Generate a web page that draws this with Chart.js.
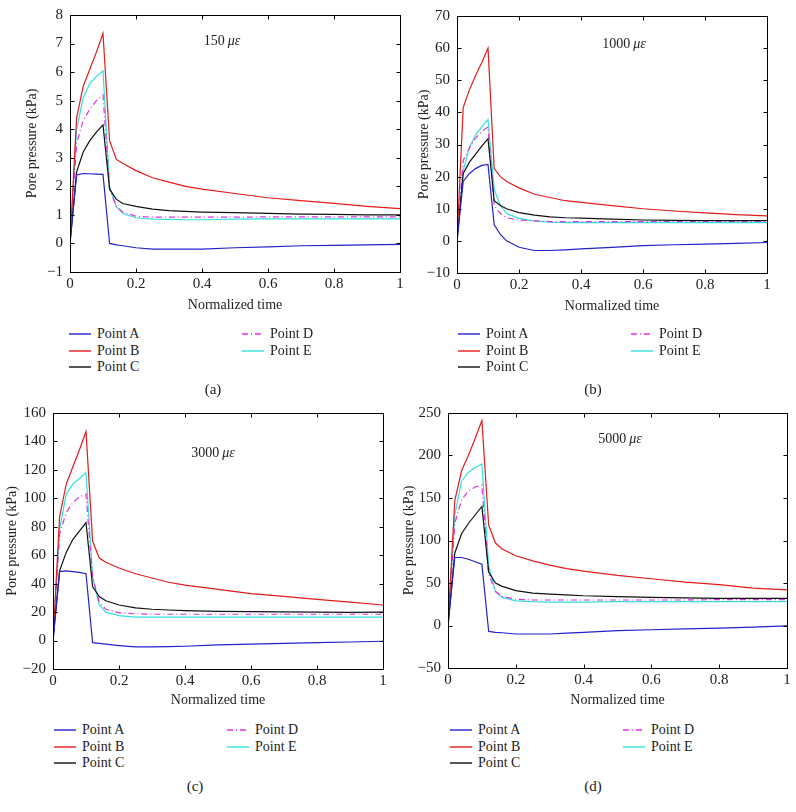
<!DOCTYPE html>
<html>
<head>
<meta charset="utf-8">
<script src="https://cdn.jsdelivr.net/npm/chart.js@4/dist/chart.umd.min.js"></script>
<style>
  body { margin: 0; background: #fff; }
  #page { position: relative; width: 796px; height: 812px; font-family: "Liberation Serif", serif; color: #222; }
  canvas { position: absolute; }
  .txt { position: absolute; font-size: 14px; white-space: nowrap; line-height: 1; }
  .note { position: absolute; font-size: 14px; white-space: nowrap; transform: translate(-50%, -50%); }
  .note i { font-style: italic; }
  .cap { position: absolute; font-size: 15px; transform: translate(-50%, -50%); }
  .sw { position: absolute; width: 22px; height: 4px; line-height: 0; }
  .sw svg { display: block; }
</style>
</head>
<body>
<div id="page">
  <canvas id="chartA" width="405" height="306" style="left:0;top:9px"></canvas>
  <canvas id="chartB" width="372" height="306" style="left:400px;top:10px"></canvas>
  <canvas id="chartC" width="388" height="303" style="left:0;top:407px"></canvas>
  <canvas id="chartD" width="392" height="303" style="left:400px;top:407px"></canvas>
</div>
<script>
// normalized time samples shared by all curves
const times = [0, 0.02, 0.04, 0.06, 0.08, 0.1, 0.12, 0.14, 0.16, 0.2, 0.25, 0.3, 0.35, 0.4, 0.5, 0.6, 0.7, 0.8, 0.9, 1.0];
const seriesNames = ['Point A', 'Point B', 'Point C', 'Point D', 'Point E'];

// (a) 150 microstrain
const a_A = [0, 2.4, 2.45, 2.44, 2.43, 2.42, 0.0, -0.05, -0.08, -0.15, -0.2, -0.2, -0.2, -0.2, -0.15, -0.12, -0.08, -0.07, -0.05, -0.03];
const a_B = [0, 4.4, 5.5, 6.1, 6.7, 7.35, 3.6, 2.95, 2.8, 2.55, 2.3, 2.15, 2.0, 1.9, 1.75, 1.6, 1.5, 1.4, 1.3, 1.22];
const a_C = [0, 2.5, 3.2, 3.6, 3.9, 4.15, 1.9, 1.55, 1.4, 1.3, 1.2, 1.15, 1.12, 1.1, 1.08, 1.05, 1.03, 1.02, 1.0, 1.0];
const a_D = [0, 3.5, 4.3, 4.7, 5.0, 5.2, 1.9, 1.3, 1.1, 0.95, 0.92, 0.92, 0.92, 0.92, 0.92, 0.93, 0.93, 0.93, 0.93, 0.93];
const a_E = [0, 4.0, 5.1, 5.6, 5.85, 6.05, 2.0, 1.3, 1.05, 0.9, 0.85, 0.84, 0.83, 0.83, 0.85, 0.86, 0.86, 0.86, 0.86, 0.86];

// (b) 1000 microstrain
const b_A = [0, 18.5, 21, 22.5, 23.5, 23.8, 5, 2, 0, -2, -3, -3, -2.8, -2.5, -2, -1.5, -1.2, -1, -0.8, -0.5];
const b_B = [0, 41.5, 47, 51.5, 55.5, 60, 22.5, 20, 18.5, 16.5, 14.5, 13.5, 12.5, 12, 11, 10, 9.3, 8.7, 8.2, 7.8];
const b_C = [0, 21, 24.5, 27, 29.5, 31.8, 12.5, 11, 10, 8.8, 8, 7.5, 7.2, 7.1, 6.8, 6.5, 6.4, 6.3, 6.3, 6.3];
const b_D = [0, 25, 29, 32, 34, 35.5, 11, 8.5, 7.2, 6.5, 6.2, 6.0, 6.0, 6.0, 6.0, 6.0, 6.1, 6.1, 6.1, 6.1];
const b_E = [0, 22, 29, 33, 35.5, 37.8, 16, 11, 8.5, 7, 6.2, 5.8, 5.7, 5.7, 5.7, 5.7, 5.7, 5.7, 5.7, 5.7];

// (c) 3000 microstrain
const c_A = [0, 48.5, 49, 48.5, 48, 47, -1.5, -2, -2.5, -3.5, -4.5, -4.5, -4.3, -4, -3, -2.5, -2, -1.5, -1, -0.5];
const c_B = [0, 87, 110, 122, 134, 147, 70, 58, 55, 51, 47, 44, 41, 39, 36, 33, 31, 29, 27, 25];
const c_C = [0, 49, 62, 71, 77, 83, 38, 31, 28, 25, 23, 22, 21.5, 21, 20.5, 20.3, 20.2, 20, 19.8, 20];
const c_D = [0, 75, 90, 97, 101, 103, 45, 27, 22, 19.5, 18.8, 18.5, 18.5, 18.5, 18.5, 18.5, 18.5, 18.5, 18.5, 18.5];
const c_E = [0, 78, 103, 110, 114, 118, 45, 25, 20, 17.5, 16.5, 16.5, 16.5, 16.5, 16.5, 16.5, 16.5, 16.5, 16.5, 16.5];

// (d) 5000 microstrain
const d_A = [0, 80, 80, 78, 75, 72, -7, -8, -8.5, -10, -10, -10, -9, -8, -6, -5, -4, -3, -2, -0.5];
const d_B = [0, 147, 182, 200, 220, 241, 118, 97, 90, 82, 76, 71, 67, 64, 59, 55, 51, 48, 44, 42];
const d_C = [0, 85, 108, 120, 130, 140, 63, 50, 46, 41, 38, 37, 36, 35, 34, 33, 32.5, 32, 32, 32];
const d_D = [0, 120, 148, 158, 163, 165, 60, 40, 34, 31, 30, 30, 30, 30, 30, 30, 30, 30.5, 30.5, 30.5];
const d_E = [0, 130, 170, 180, 186, 190, 70, 40, 33, 29, 28, 27.5, 27.5, 27.5, 28, 28, 28, 28, 28, 28];

const colors = ['#2222cc', '#e21b1b', '#111111', '#e030e0', '#30e0e0'];
const dashes = [[], [], [], [6, 3, 1, 3], []];

const FONT = { family: '"Liberation Serif", serif', size: 15 };
const TITLE_FONT = { family: '"Liberation Serif", serif', size: 14 };

// box round the plot and inward ticks on all four sides
const boxTicks = {
  id: 'boxTicks',
  afterDraw(chart) {
    const { ctx, chartArea: a, scales } = chart;
    ctx.save();
    ctx.strokeStyle = '#000';
    ctx.lineWidth = 1;
    const l = Math.round(a.left) + 0.5, r = Math.round(a.right) + 0.5;
    const t = Math.round(a.top) + 0.5, b = Math.round(a.bottom) + 0.5;
    ctx.strokeRect(l, t, r - l, b - t);
    ctx.beginPath();
    scales.x.ticks.forEach(tk => {
      const px = Math.round(scales.x.getPixelForValue(tk.value)) + 0.5;
      ctx.moveTo(px, b); ctx.lineTo(px, b - 4);
      ctx.moveTo(px, t); ctx.lineTo(px, t + 4);
    });
    scales.y.ticks.forEach(tk => {
      const py = Math.round(scales.y.getPixelForValue(tk.value)) + 0.5;
      ctx.moveTo(l, py); ctx.lineTo(l + 4, py);
      ctx.moveTo(r, py); ctx.lineTo(r - 4, py);
    });
    ctx.stroke();
    ctx.restore();
  }
};

function makePanel(id, series, yMin, yMax, yStep, yWidth, xHeight, yTitlePad) {
  new Chart(document.getElementById(id), {
    type: 'line',
    data: {
      datasets: series.map((vals, i) => ({
        label: seriesNames[i],
        data: vals.map((v, k) => ({ x: times[k], y: v })),
        borderColor: colors[i],
        borderWidth: 1.2,
        borderDash: dashes[i],
        pointRadius: 0,
        tension: 0,
        fill: false
      }))
    },
    options: {
      responsive: false,
      animation: false,
      layout: { padding: { top: 6, right: 5, left: 0, bottom: 0 } },
      plugins: { legend: { display: false }, tooltip: { enabled: false } },
      scales: {
        x: {
          type: 'linear', min: 0, max: 1,
          grid: { display: false, drawTicks: false },
          border: { display: false },
          ticks: { stepSize: 0.2, padding: 3, color: '#222', font: FONT, maxRotation: 0,
                   callback: v => String(Math.round(v * 10) / 10) },
          title: { display: true, text: 'Normalized time', color: '#222', font: TITLE_FONT, padding: { top: 0, bottom: 1 } },
          afterFit: s => { s.height = xHeight; s.paddingLeft = 0; s.paddingRight = 0; }
        },
        y: {
          min: yMin, max: yMax,
          grid: { display: false, drawTicks: false },
          border: { display: false },
          ticks: { stepSize: yStep, padding: 7, color: '#222', font: FONT,
                   callback: v => String(v).replace('-', '\u2212') },
          title: { display: true, text: 'Pore pressure (kPa)', color: '#222', font: TITLE_FONT, padding: { top: yTitlePad, bottom: 0 } },
          afterFit: s => { s.width = yWidth; s.paddingTop = 0; s.paddingBottom = 0; }
        }
      }
    },
    plugins: [boxTicks]
  });
}

makePanel('chartA', [a_A, a_B, a_C, a_D, a_E], -1, 8, 1, 70, 43, 24);
makePanel('chartB', [b_A, b_B, b_C, b_D, b_E], -10, 70, 10, 57, 43, 16);
makePanel('chartC', [c_A, c_B, c_C, c_D, c_E], -20, 160, 20, 53, 41, 4);
makePanel('chartD', [d_A, d_B, d_C, d_D, d_E], -50, 250, 50, 48, 42, 1);

// strain labels, legends and captions
const page = document.getElementById('page');
function addEl(cls, html, left, top) {
  const el = document.createElement('div');
  el.className = cls;
  el.innerHTML = html;
  el.style.left = left + 'px';
  el.style.top = top + 'px';
  page.appendChild(el);
  return el;
}
addEl('note', '150&thinsp;<i>\u03bc\u03b5</i>', 222, 41);
addEl('note', '1000&thinsp;<i>\u03bc\u03b5</i>', 624, 44);
addEl('note', '3000&thinsp;<i>\u03bc\u03b5</i>', 213, 453);
addEl('note', '5000&thinsp;<i>\u03bc\u03b5</i>', 620, 439);

const legendSpots = [
  { c1: 69, c2: 242, y: 334, cap: '(a)', capX: 213, capY: 389 },
  { c1: 458, c2: 631, y: 334, cap: '(b)', capX: 593, capY: 389 },
  { c1: 54, c2: 227, y: 730, cap: '(c)', capX: 195, capY: 786 },
  { c1: 450, c2: 623, y: 730, cap: '(d)', capX: 593, capY: 786 }
];
legendSpots.forEach(sp => {
  seriesNames.forEach((name, i) => {
    const col = i < 3 ? sp.c1 : sp.c2;
    const row = i < 3 ? i : i - 3;
    const y = sp.y + row * 16.7;
    const dash = dashes[i].length ? ' stroke-dasharray="' + dashes[i].join(' ') + '"' : '';
    addEl('sw', '<svg width="22" height="4"><line x1="0" y1="2" x2="22" y2="2" stroke="' + colors[i] +
      '" stroke-width="1.4"' + dash + '/></svg>', col, y - 2);
    addEl('txt', name, col + 28, y - 7);
  });
  addEl('cap', sp.cap, sp.capX, sp.capY);
});
</script>
</body>
</html>
